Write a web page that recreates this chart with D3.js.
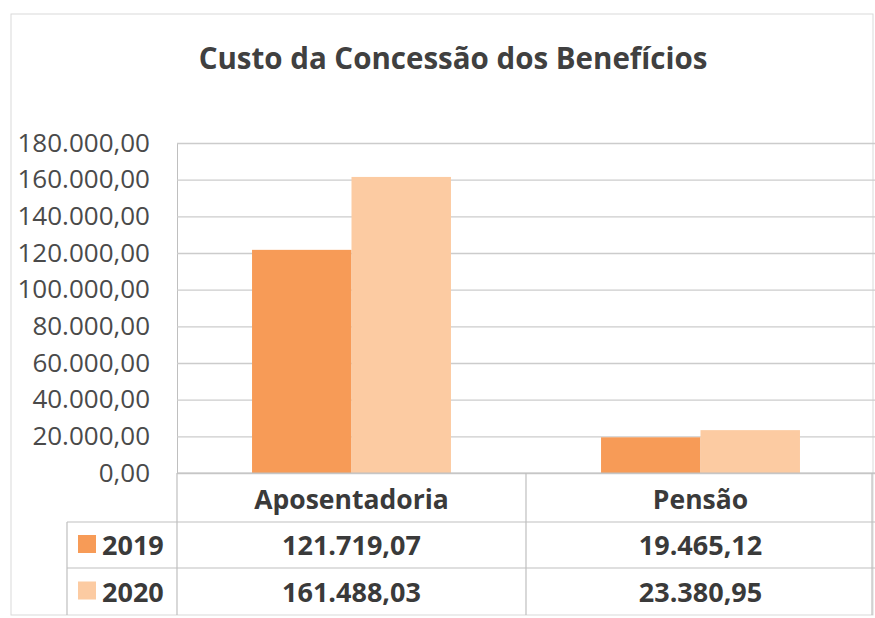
<!DOCTYPE html>
<html>
<head>
<meta charset="utf-8">
<script src="https://cdn.jsdelivr.net/npm/d3@7"></script>
<style>
  body { margin: 0; background: #fff; }
  svg { display: block; font-family: "Open Sans", sans-serif; }
</style>
</head>
<body>
<svg></svg>
<script>
let categories = ["Aposentadoria", "Pensão"];
let years = ["2019", "2020"];
let values2019 = [121719.07, 19465.12];
let values2020 = [161488.03, 23380.95];
let colors = ["#f79b57", "#fccba2"];
let yTicks = [0, 20000, 40000, 60000, 80000, 100000, 120000, 140000, 160000, 180000];

let series = [values2019, values2020];

let svgWidth = 875,
    svgHeight = 618;

// plot area
let plotLeft = 177, plotRight = 875, plotTop = 143, plotBottom = 473;
// table rows
let rowH = [473, 522, 568, 615];
let legendX = 67;

let svg = d3.select("svg")
    .attr("width", svgWidth)
    .attr("height", svgHeight);

// brazilian number format 180.000,00
let br = d3.formatLocale({decimal: ",", thousands: ".", grouping: [3], currency: ["R$", ""]});
let fmt = br.format(",.2f");

//chart frame
svg.append("rect")
    .attr("x", 11).attr("y", 14)
    .attr("width", 862).attr("height", 601)
    .attr("fill", "#fff")
    .attr("stroke", "#d9d9d9");

//title
svg.append("text")
    .attr("x", 453).attr("y", 69)
    .attr("text-anchor", "middle")
    .attr("font-size", 29.5)
    .attr("font-weight", "bold")
    .attr("fill", "#404040")
    .text("Custo da Concessão dos Benefícios");

let x0 = d3.scaleBand()
    .domain(categories)
    .range([plotLeft, plotRight])
    .paddingInner(0.43)
    .paddingOuter(0.215);

let x1 = d3.scaleBand()
    .domain(years)
    .range([0, x0.bandwidth()]);

let y = d3.scaleLinear()
    .domain([0, 180000])
    .range([plotBottom, plotTop]);

//gridlines + y labels
let yAxis = d3.axisLeft(y)
    .tickValues(yTicks)
    .tickFormat(fmt)
    .tickSize(-(plotRight - plotLeft))
    .tickPadding(27);

let ga = svg.append("g")
    .attr("class", "yAxis")
    .attr("transform", "translate(" + plotLeft + ",0)")
    .call(yAxis);
ga.select(".domain").attr("stroke", "#bfbfbf");
ga.selectAll(".tick line").attr("stroke", "#cccccc").attr("stroke-width", 1.3);
ga.selectAll(".tick text")
    .attr("font-size", 26)
    .attr("fill", "#4a4a4a")
    .attr("font-family", "Open Sans, sans-serif");

//bars
let groups = svg.selectAll("g.cat")
    .data(categories).enter()
    .append("g")
        .attr("class", "cat")
        .attr("transform", d => "translate(" + x0(d) + ",0)");

groups.selectAll("rect")
    .data((d, i) => years.map((yr, j) => ({year: yr, value: series[j][i], idx: j})))
    .enter().append("rect")
        .attr("x", d => x1(d.year))
        .attr("y", d => y(d.value))
        .attr("width", x1.bandwidth())
        .attr("height", d => plotBottom - y(d.value))
        .attr("fill", d => colors[d.idx]);

//data table
let tbl = svg.append("g").attr("class", "dataTable")
    .attr("stroke", "#bfbfbf").attr("stroke-width", 1.2);

// horizontal lines
tbl.append("line").attr("x1", plotLeft).attr("x2", plotRight).attr("y1", rowH[0]).attr("y2", rowH[0]);
tbl.append("line").attr("x1", legendX).attr("x2", plotRight).attr("y1", rowH[1]).attr("y2", rowH[1]);
tbl.append("line").attr("x1", legendX).attr("x2", plotRight).attr("y1", rowH[2]).attr("y2", rowH[2]);
// vertical lines
tbl.append("line").attr("x1", legendX).attr("x2", legendX).attr("y1", rowH[1]).attr("y2", rowH[3]);
tbl.selectAll("line.colSep")
    .data(categories).enter()
    .append("line").attr("class", "colSep")
        .attr("x1", d => x0(d) - x0.step() * x0.paddingInner() / 2)
        .attr("x2", d => x0(d) - x0.step() * x0.paddingInner() / 2)
        .attr("y1", rowH[0]).attr("y2", rowH[3]);
tbl.append("line").attr("x1", plotRight - 3).attr("x2", plotRight - 3).attr("y1", rowH[0]).attr("y2", rowH[3]);

// header labels
svg.selectAll("text.catLabel")
    .data(categories).enter()
    .append("text").attr("class", "catLabel")
        .attr("x", d => x0(d) + x0.bandwidth() / 2)
        .attr("y", 509)
        .attr("text-anchor", "middle")
        .attr("font-size", 26.5)
        .attr("font-weight", "bold")
        .attr("fill", "#3a3a3a")
        .text(d => d);

// rows
years.forEach((yr, j) => {
    let cy = (rowH[j + 1] + rowH[j + 2]) / 2;
    svg.append("rect")
        .attr("x", 78).attr("y", cy - 10)
        .attr("width", 18).attr("height", 18)
        .attr("fill", colors[j]);
    svg.append("text")
        .attr("x", 102).attr("y", cy + 10)
        .attr("font-size", 27)
        .attr("font-weight", "bold")
        .attr("fill", "#3a3a3a")
        .text(yr);
    svg.selectAll("text.val" + yr)
        .data(series[j]).enter()
        .append("text").attr("class", "val" + yr)
            .attr("x", (d, i) => x0(categories[i]) + x0.bandwidth() / 2)
            .attr("y", cy + 10)
            .attr("text-anchor", "middle")
            .attr("font-size", 27)
            .attr("font-weight", "bold")
            .attr("fill", "#3a3a3a")
            .text(d => fmt(d));
});
</script>
</body>
</html>
